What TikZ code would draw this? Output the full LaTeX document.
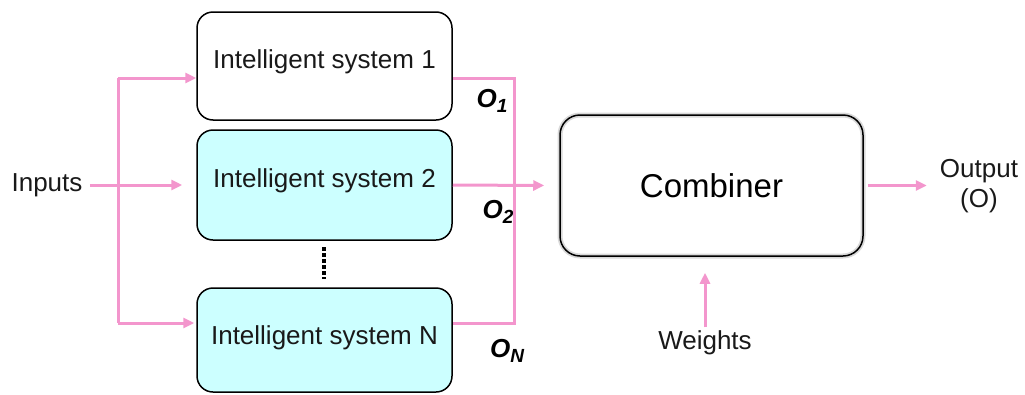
\documentclass[tikz,border=0pt]{standalone}
\usepackage{fontspec}
\setmainfont{Liberation Sans}
\usetikzlibrary{arrows.meta,calc}
\definecolor{pinkline}{RGB}{243,150,205}
\definecolor{cyanfill}{RGB}{204,255,255}
\newcommand{\osub}[1]{O\raisebox{-5pt}{\fontsize{19}{19}\selectfont #1}}
\tikzset{
  sysbox/.style={draw=black, line width=1.5pt, rounded corners=16pt, minimum width=255pt, font=\fontsize{26}{30}\selectfont, text=black!90},
  plink/.style={draw=pinkline, line width=3pt},
  parrow/.style={plink, -{Triangle[length=11pt,width=10pt]}},
  lbl/.style={font=\fontsize{26}{30}\selectfont, text=black!90},
  olbl/.style={font=\fontsize{26}{28}\selectfont\bfseries\itshape}
}
\begin{document}
\begin{tikzpicture}[x=1pt,y=-1pt]
\useasboundingbox (0,0) rectangle (1025,394);
% systems
\node[sysbox, minimum height=108pt, fill=white, text depth=14pt] (b1) at (324.5,66) {Intelligent system 1};
\node[sysbox, minimum height=110pt, fill=cyanfill, text depth=14pt] (b2) at (324.5,185) {Intelligent system 2};
\node[sysbox, minimum height=104pt, fill=cyanfill, text depth=10pt] (bN) at (324.5,340) {Intelligent system N};
% dots
\coordinate (d1) at (323.5,247);
\coordinate (d2) at (323.5,279);
\draw[line width=4pt, dash pattern=on 3.5pt off 2.5pt] (d1) -- (d2);
% combiner
\node[draw=black, line width=1.5pt, rounded corners=20pt, minimum width=303pt, minimum height=141pt,
      preaction={draw=black!15, line width=5pt},
      font=\fontsize{33}{38}\selectfont] (comb) at (711.5,185.5) {Combiner};
% texts
\node[lbl] (in) at (47,185) {Inputs};
\node[lbl] (w) at (705,343) {Weights};
\node[lbl, align=center, inner sep=0pt] (out) at (979,186) {Output\\(O)};
\node[olbl] (o1) at (492,101) {\osub{1}};
\node[olbl] (o2) at (498,212) {\osub{2}};
\node[olbl] (oN) at (507,351) {\osub{N}};
% input bus
\coordinate (bt) at (118,78);
\coordinate (bb) at (118,323);
\draw[plink] (bt) -- (bb);
\draw[parrow] (bt) -- (bt -| b1.west);
\draw[parrow] ([xshift=4pt]in.east) -- ([xshift=-14pt]b2.west);
\draw[parrow] (bb) -- ([xshift=-2pt]bb -| bN.west);
% output bus
\coordinate (ot) at (514,78);
\coordinate (ob) at (514,323);
\draw[plink] (bt -| b1.east) -- (ot) -- (ob) -- (bb -| bN.east);
\draw[parrow] (b2.east) -- ([xshift=-15pt]comb.west);
\draw[parrow] ([xshift=4pt]comb.east) -- ([xshift=-13pt]out.west |- comb.east);
\draw[parrow] (w.north) -- ([yshift=-16pt]w |- comb.south);
\end{tikzpicture}
\end{document}
